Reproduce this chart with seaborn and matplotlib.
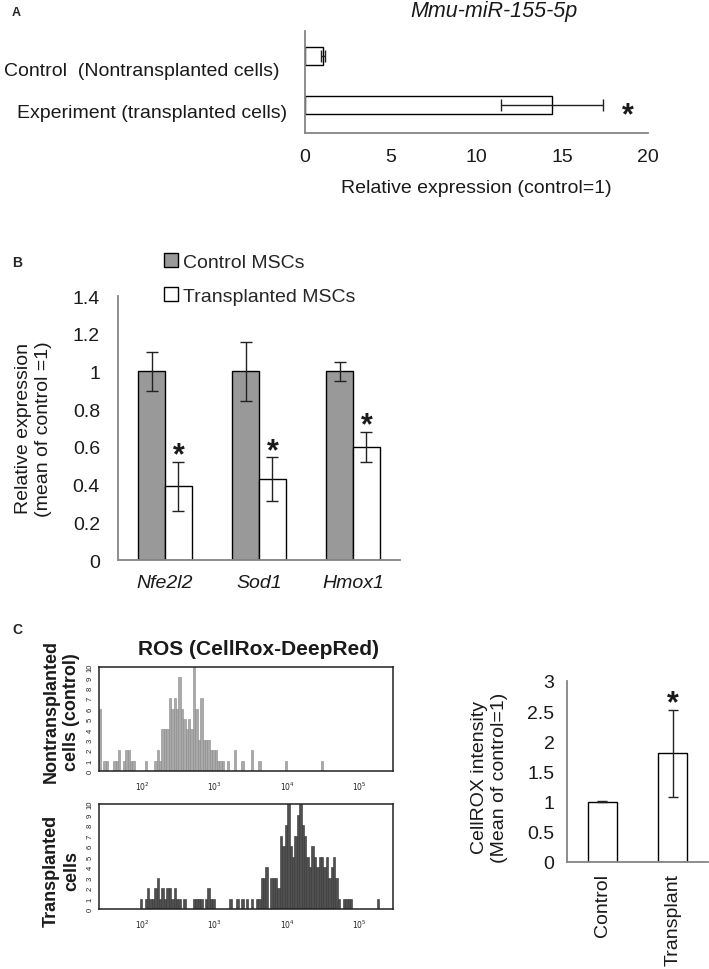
import numpy as np
import pandas as pd
import matplotlib
matplotlib.use("Agg")
import matplotlib.pyplot as plt
from matplotlib.patches import Patch
import seaborn as sns

# ---- data ----
# A: miR-155-5p expression
a_labels = ["Control  (Nontransplanted cells)", "Experiment (transplanted cells)"]
a_values = [1.05, 14.4]
a_err = [0.12, 3.0]

# B: oxidative stress genes
b_genes = ["Nfe2l2", "Sod1", "Hmox1"]
b_groups = ["Control MSCs", "Transplanted MSCs"]
b_ctrl = [1.0, 1.0, 1.0]
b_ctrl_err = [0.105, 0.155, 0.05]
b_tx = [0.39, 0.43, 0.60]
b_tx_err = [0.13, 0.115, 0.08]

# C: flow histograms, counts per bin (bins of 1/30 decade from 10^1.4)
hist_log_start = 1.4
hist_bin_width = 1 / 30
ctrl_counts = [6, 0, 1, 1, 0, 0, 1, 1, 2, 0,
               1, 2, 2, 1, 1, 0, 0, 0, 0, 1,
               0, 0, 0, 1, 2, 1, 4, 4, 4, 7,
               6, 7, 6, 9, 6, 5, 4, 5, 4, 10,
               6, 3, 7, 3, 3, 3, 2, 2, 2, 1,
               1, 1, 0, 1, 0, 0, 2, 0, 0, 1,
               0, 0, 0, 2, 0, 0, 1, 0, 0, 0,
               0, 0, 0, 0, 0, 0, 0, 1, 0, 0,
               0, 0, 0, 0, 0, 0, 0, 0, 0, 0,
               0, 0, 1, 0, 0, 0, 0, 0, 0, 0,
               0, 0, 0, 0, 0, 0, 0, 0, 0, 0,
               0, 0, 0, 0, 0, 0, 0, 0, 0, 0,
               0, 0]
tx_counts = [0, 0, 0, 0, 0, 0, 0, 0, 0, 0,
             0, 0, 0, 0, 0, 0, 0, 1, 0, 1,
             2, 1, 1, 2, 3, 1, 2, 1, 2, 2,
             1, 2, 1, 1, 0, 1, 0, 0, 0, 1,
             1, 1, 1, 0, 1, 2, 1, 1, 0, 0,
             0, 0, 0, 0, 1, 0, 0, 1, 0, 1,
             0, 1, 0, 1, 0, 1, 1, 3, 3, 4,
             0, 3, 3, 3, 2, 7, 6, 8, 10, 6,
             5, 7, 9, 10, 8, 7, 5, 4, 6, 5,
             4, 5, 5, 4, 5, 3, 4, 5, 3, 1,
             0, 1, 1, 1, 1, 0, 0, 0, 0, 0,
             0, 0, 0, 0, 0, 1, 0, 0, 0, 0,
             0, 0]

# C: CellROX intensity
c_labels = ["Control", "Transplant"]
c_values = [1.0, 1.8]
c_err = [0.01, 0.72]

# ---- style ----
sns.set_style("white")
plt.rcParams["font.family"] = ["Liberation Sans", "DejaVu Sans"]

W, H = 709, 970
fig = plt.figure(figsize=(W / 100, H / 100), dpi=100)

GRAY = "#858585"
INK = "#1a1a1a"
STAR_FS = 22


def px_axes(x0, y0, x1, y1):
    return fig.add_axes([x0 / W, 1 - y1 / H, (x1 - x0) / W, (y1 - y0) / H])


def style_bar_axes(ax):
    for s in ("top", "right"):
        ax.spines[s].set_visible(False)
    for s in ("left", "bottom"):
        ax.spines[s].set_color(GRAY)
        ax.spines[s].set_linewidth(1.3)
    ax.tick_params(colors=GRAY, labelcolor=INK, labelsize=14, width=1.2,
                   direction="out", length=5)


def star(ax, x, y, dx_pt=0.0, dy_pt=0.0):
    # glyph centre of '*' sits ~0.575 em above baseline
    ax.annotate("*", xy=(x, y), xytext=(dx_pt, dy_pt - 0.575 * STAR_FS),
                textcoords="offset points", ha="center", va="baseline",
                fontsize=STAR_FS, fontweight="bold", color=INK)


def fmt(v):
    return f"{v:g}"


# ---- panel A ----
ax = px_axes(305, 32, 648, 134)
sns.barplot(x=a_values, y=a_labels, orient="h", width=0.37, color="white",
            edgecolor="black", linewidth=1, saturation=1, ax=ax)
ax.errorbar(a_values, range(len(a_values)), xerr=a_err, fmt="none",
            ecolor="#222222", elinewidth=1, capsize=4.5, capthick=1)
style_bar_axes(ax)
ax.set_xlim(0, 20)
ax.set_xticks(range(0, 21, 5))
ax.set_ylim(1.57, -0.51)
ax.set_yticks([])
ax.set_ylabel("")
ax.tick_params(axis="x", pad=6)
ax.set_xlabel("Relative expression (control=1)", fontsize=14, color=INK, labelpad=10)
star(ax, 18.8, 1.02)
for lbl, (lx, ly) in zip(a_labels, [(280, 72), (287, 113)]):
    fig.text(lx / W, 1 - ly / H, lbl, ha="right", va="center", fontsize=14, color=INK)
fig.text(494 / W, 1 - 12 / H, "Mmu-miR-155-5p", ha="center", va="center",
         fontsize=15.5, style="italic", color=INK)
fig.text(12 / W, 1 - 13 / H, "A", ha="left", va="center", fontsize=9, fontweight="bold")

# ---- panel B ----
b_df = pd.DataFrame({
    "gene": b_genes * 2,
    "group": [b_groups[0]] * len(b_genes) + [b_groups[1]] * len(b_genes),
    "value": b_ctrl + b_tx,
})
ax = px_axes(118, 297, 400, 561)
sns.barplot(data=b_df, x="gene", y="value", hue="group",
            palette=["#999999", "white"], width=0.57, edgecolor="black",
            linewidth=1, saturation=1, ax=ax)
for cont, vals, errs in zip(ax.containers, [b_ctrl, b_tx], [b_ctrl_err, b_tx_err]):
    xs = [r.get_x() + r.get_width() / 2 for r in cont]
    ax.errorbar(xs, vals, yerr=errs, fmt="none", ecolor="#222222",
                elinewidth=1, capsize=4, capthick=1)
    if vals is b_tx:
        for x, v, e in zip(xs, vals, errs):
            star(ax, x, v + e, dy_pt=11.5)
style_bar_axes(ax)
ax.get_legend().remove()
ax.set_ylim(0, 1.4)
ax.set_xlim(-0.5, 2.5)
yt = np.arange(0, 1.41, 0.2)
ax.set_yticks(yt)
ax.set_yticklabels([fmt(round(v, 1)) for v in yt])
ax.tick_params(axis="y", pad=8)
ax.tick_params(axis="x", which="major", length=0, pad=10)
ax.set_xticks([-0.5, 0.5, 1.5, 2.5], minor=True)
ax.tick_params(axis="x", which="minor", length=5, color=GRAY, width=1.2)
for t in ax.get_xticklabels():
    t.set_style("italic")
ax.set_xlabel("")
ax.set_ylabel("Relative expression\n(mean of control =1)", fontsize=14, color=INK)
ax.yaxis.set_label_coords(-0.234, 0.5)
handles = [Patch(facecolor=c, edgecolor="black", linewidth=1) for c in ["#999999", "white"]]
fig.legend(handles, b_groups, loc="upper left", bbox_to_anchor=(164 / W, 1 - 254 / H),
           frameon=False, fontsize=14, handlelength=0.7, handleheight=0.7,
           handletextpad=0.3, labelspacing=0.85, borderaxespad=0, borderpad=0)
fig.text(12 / W, 1 - 263 / H, "B", ha="left", va="center", fontsize=10, fontweight="bold")

# ---- panel C: histograms ----
edges = hist_log_start + np.arange(len(ctrl_counts) + 1) * hist_bin_width
centers = edges[:-1] + hist_bin_width / 2
minor = [np.log10(k) + d for d in range(1, 6) for k in range(2, 10)
         if 1.405 < np.log10(k) + d < 5.46]

hist_specs = [
    (668, 772, ctrl_counts, "#a9a9a9", "#8a8a8a", "Nontransplanted\ncells (control)", 0.58),
    (805, 910, tx_counts, "#505050", "#333333", "Transplanted\ncells", 0.37),
]
for top, bottom, counts, face, edge, label, ly in hist_specs:
    ax = px_axes(99, top, 393, bottom)
    hdf = pd.DataFrame({"log_intensity": centers, "count": counts})
    sns.histplot(data=hdf, x="log_intensity", weights="count", bins=edges.tolist(),
                 color=face, edgecolor=edge, linewidth=0.4, alpha=1, ax=ax)
    ax.set_xlim(1.405, 5.46)
    ax.set_ylim(0, 10)
    for s in ax.spines.values():
        s.set_visible(True)
        s.set_color("#222222")
        s.set_linewidth(1.1)
    ax.set_yticks(range(11))
    ax.set_yticklabels([str(v) for v in range(11)], rotation=90, va="center")
    ax.set_xticks([2, 3, 4, 5])
    ax.set_xticklabels([f"$10^{{{d}}}$" for d in [2, 3, 4, 5]])
    ax.set_xticks(minor, minor=True)
    ax.tick_params(axis="both", which="both", direction="out", colors="#222222",
                   labelsize=5.5, width=0.9)
    ax.tick_params(axis="x", which="major", length=5, pad=1.5)
    ax.tick_params(axis="x", which="minor", length=4)
    ax.tick_params(axis="y", length=3, pad=1)
    ax.set_xlabel("")
    ax.set_ylabel(label, fontsize=13, fontweight="bold", color=INK, linespacing=1.25)
    ax.yaxis.set_label_coords(-0.065, ly)

fig.text(258 / W, 1 - 650 / H, "ROS (CellRox-DeepRed)", ha="center", va="center",
         fontsize=15, fontweight="bold", color=INK)
fig.text(12 / W, 1 - 630 / H, "C", ha="left", va="center", fontsize=10, fontweight="bold")

# ---- panel C: CellROX bar chart ----
ax = px_axes(567, 682, 708, 863)
sns.barplot(x=c_labels, y=c_values, width=0.41, color="white", edgecolor="black",
            linewidth=1, saturation=1, ax=ax)
ax.errorbar(range(len(c_values)), c_values, yerr=c_err, fmt="none",
            ecolor="#222222", elinewidth=1, capsize=3.5, capthick=1)
style_bar_axes(ax)
ax.set_ylim(0, 3)
ax.set_xlim(-0.5, 1.5)
yt = np.arange(0, 3.01, 0.5)
ax.set_yticks(yt)
ax.set_yticklabels([fmt(v) for v in yt])
ax.tick_params(axis="y", pad=4)
ax.tick_params(axis="x", which="major", length=0, pad=8)
ax.set_xticks([-0.5, 0.5, 1.5], minor=True)
ax.tick_params(axis="x", which="minor", length=5, color=GRAY, width=1.2)
for t in ax.get_xticklabels():
    t.set_rotation(90)
    t.set_va("top")
ax.set_xlabel("")
ax.set_ylabel("CellROX intensity\n(Mean of control=1)", fontsize=14, color=INK)
ax.yaxis.set_label_coords(-0.418, 0.47)
star(ax, 1, c_values[1] + c_err[1], dy_pt=11.5)

fig.savefig("out.png", dpi=100)
